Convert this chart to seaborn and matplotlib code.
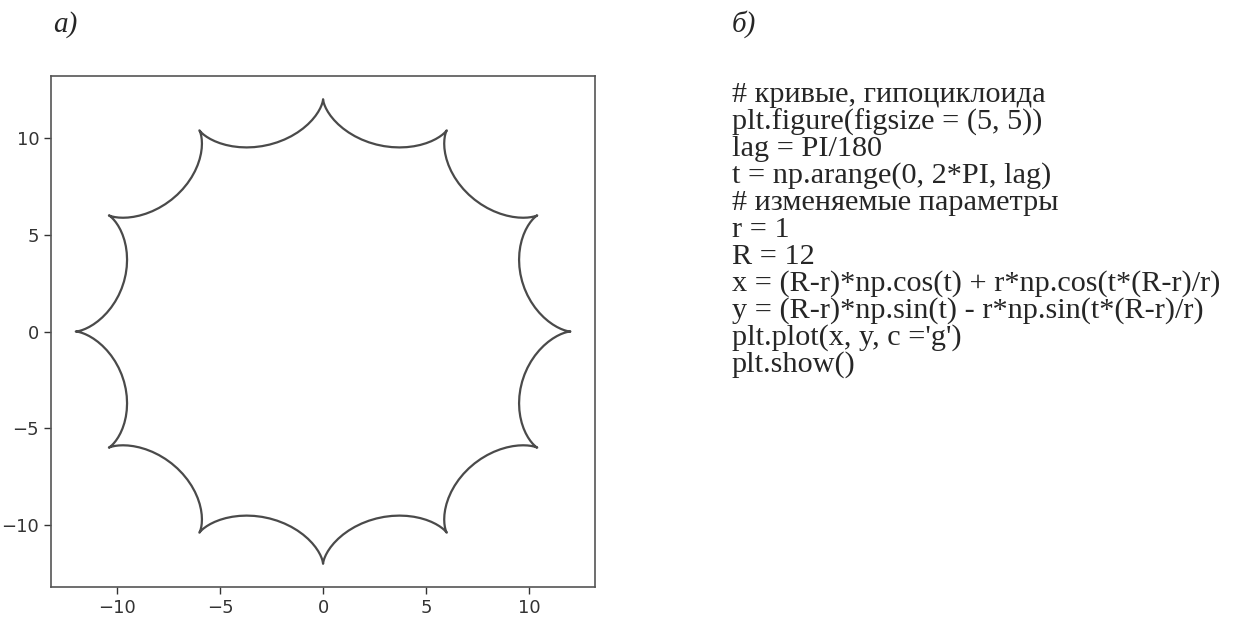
import numpy as np
import pandas as pd
import seaborn as sns
import matplotlib
matplotlib.use("Agg")
import matplotlib.pyplot as plt

sns.set_style("ticks")

# parameters shown in the listing on the right
PI = np.pi
lag = PI / 180
R = 12
r = 1
t = np.arange(0, 2 * PI, lag)

# hypocycloid, exactly as written in the listing
x = (R - r) * np.cos(t) + r * np.cos(t * (R - r) / r)
y = (R - r) * np.sin(t) - r * np.sin(t * (R - r) / r)
df = pd.DataFrame({'x': x, 'y': y, 't': t})

xticks = [-10, -5, 0, 5, 10]
yticks = [-10, -5, 0, 5, 10]

code_lines = [
    "# кривые, гипоциклоида",
    "plt.figure(figsize = (5, 5))",
    "lag = PI/180",
    "t = np.arange(0, 2*PI, lag)",
    "# изменяемые параметры",
    "r = 1",
    "R = 12",
    "x = (R-r)*np.cos(t) + r*np.cos(t*(R-r)/r)",
    "y = (R-r)*np.sin(t) - r*np.sin(t*(R-r)/r)",
    "plt.plot(x, y, c ='g')",
    "plt.show()",
]

fig = plt.figure(figsize=(12.51, 6.17), dpi=100)
ax = fig.add_axes([0.0408, 0.0486, 0.4349, 0.8282])

sns.lineplot(data=df, x='x', y='y', sort=False, estimator=None,
             color='#4a4a4a', linewidth=1.6, ax=ax)

ax.set_xticks(xticks)
ax.set_yticks(yticks)
ax.set_xlabel('')
ax.set_ylabel('')
ax.tick_params(labelsize=13, colors='#333333', length=5, width=1.0)
for s in ax.spines.values():
    s.set_color('#555555')
    s.set_linewidth(1.2)

serif = ['Liberation Serif', 'DejaVu Serif']
fig.text(53 / 1251, 1 - 25 / 617, 'а)', family=serif, style='italic',
         fontsize=21, va='center', ha='left')
fig.text(732 / 1251, 1 - 24 / 617, 'б)', family=serif, style='italic',
         fontsize=21, va='center', ha='left')

for i, line in enumerate(code_lines):
    fig.text(732 / 1251, 1 - (95 + 27.0 * i) / 617, line, family=serif,
             fontsize=21.8, va='center', ha='left')

fig.savefig('out.png', dpi=100)
